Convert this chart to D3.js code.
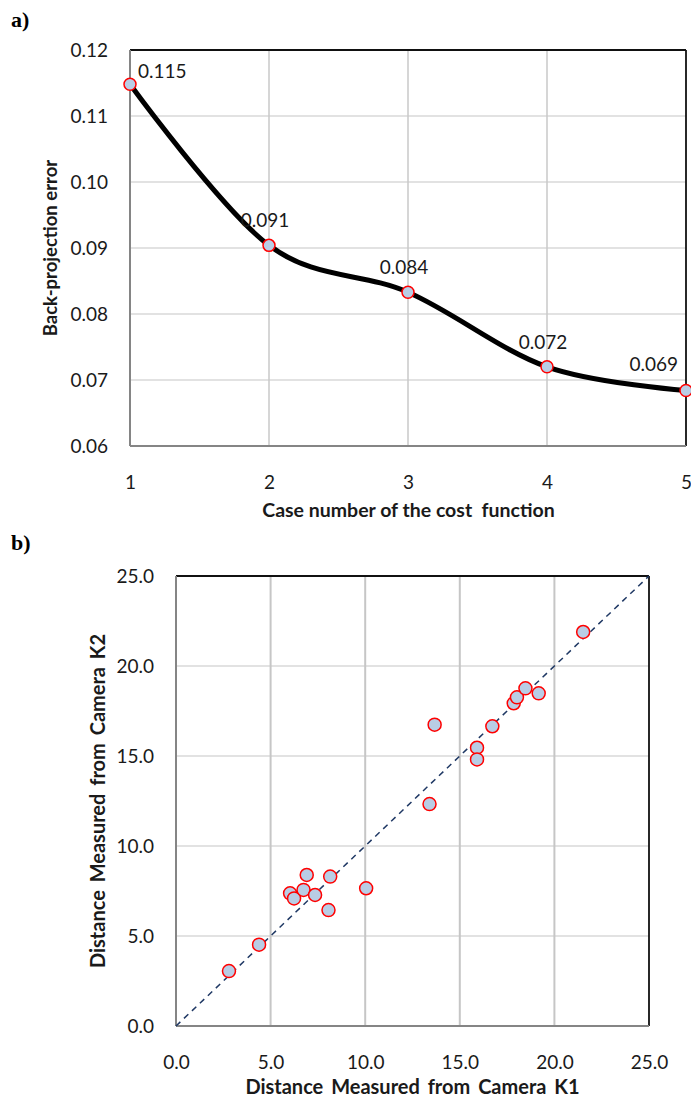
<!DOCTYPE html>
<html><head><meta charset="utf-8">
<script src="https://cdn.jsdelivr.net/npm/d3@7"></script>
<style>
body{margin:0;background:#fff;}
svg{display:block;}
</style></head>
<body>
<svg id="chart" width="691" height="1100"></svg>
<script>
// ---- Chart a data ----
const caseNumbers = [1, 2, 3, 4, 5];
const backProjError = [0.1148, 0.0904, 0.0833, 0.0720, 0.0684];
const errorLabels = ["0.115", "0.091", "0.084", "0.072", "0.069"];
const aYTicks = [0.06, 0.07, 0.08, 0.09, 0.10, 0.11, 0.12];
const aXTicks = [1, 2, 3, 4, 5];

// ---- Chart b data ----
const distK1 = [2.80, 4.39, 6.03, 6.24, 6.91, 6.74, 7.35, 8.15, 8.06, 10.05,
                13.40, 13.67, 15.91, 15.91, 16.72, 17.85, 18.02, 18.47, 19.17, 21.52];
const distK2 = [3.05, 4.52, 7.37, 7.09, 8.39, 7.56, 7.28, 8.30, 6.44, 7.65,
                12.33, 16.74, 15.46, 14.81, 16.65, 17.93, 18.26, 18.76, 18.48, 21.89];
const bTicks = [0, 5, 10, 15, 20, 25];
const identityLine = [0, 25];

const svg = d3.select("#chart");
const markerFill = "#b9cde5", markerStroke = "#ff0000";
const sans = "Lato, 'Open Sans', sans-serif";
const serif = "'Liberation Serif', 'DejaVu Serif', serif";
const txtCol = "#1a1a1a";

// ================= Chart a =================
const A = {l:130, r:686, t:50, b:446};
const ax = d3.scaleLinear().domain([1,5]).range([A.l, A.r]);
const ay = d3.scaleLinear().domain([0.06,0.12]).range([A.b, A.t]);
const ga = svg.append("g");

ga.append("g").selectAll("line").data(aYTicks.slice(1,-1)).join("line")
  .attr("x1",A.l).attr("x2",A.r).attr("y1",d=>ay(d)).attr("y2",d=>ay(d))
  .attr("stroke","#d9d9d9").attr("stroke-width",1.5);
ga.append("g").selectAll("line").data(aXTicks.slice(1,-1)).join("line")
  .attr("y1",A.t).attr("y2",A.b).attr("x1",d=>ax(d)).attr("x2",d=>ax(d))
  .attr("stroke","#c9c9c9").attr("stroke-width",1.5);
ga.append("line").attr("x1",A.l).attr("x2",A.r).attr("y1",A.t).attr("y2",A.t).attr("stroke","#111").attr("stroke-width",1.8);
ga.append("line").attr("x1",A.r).attr("x2",A.r).attr("y1",A.t).attr("y2",A.b).attr("stroke","#111").attr("stroke-width",1.8);
ga.append("line").attr("x1",A.l).attr("x2",A.l).attr("y1",A.t).attr("y2",A.b).attr("stroke","#858585").attr("stroke-width",2);
ga.append("line").attr("x1",A.l).attr("x2",A.r).attr("y1",A.b).attr("y2",A.b).attr("stroke","#858585").attr("stroke-width",2);

const aYAxis = d3.axisLeft(ay).tickValues(aYTicks).tickFormat(d3.format(".2f")).tickSize(0).tickPadding(22);
ga.append("g").attr("transform",`translate(${A.l},0)`).call(aYAxis)
  .call(g=>g.select(".domain").remove())
  .selectAll("text").style("font-size","19px").style("font-family",sans).attr("fill",txtCol);
const aXAxis = d3.axisBottom(ax).tickValues(aXTicks).tickFormat(d3.format("d")).tickSize(0).tickPadding(30);
ga.append("g").attr("transform",`translate(0,${A.b})`).call(aXAxis)
  .call(g=>g.select(".domain").remove())
  .selectAll("text").style("font-size","19px").style("font-family",sans).attr("fill",txtCol);

const aPts = caseNumbers.map((c,i)=>[c, backProjError[i]]);
ga.append("path").datum(aPts)
  .attr("d", d3.line().x(d=>ax(d[0])).y(d=>ay(d[1])).curve(d3.curveCardinal.tension(0)))
  .attr("fill","none").attr("stroke","#000").attr("stroke-width",5);
ga.append("g").selectAll("circle").data(aPts).join("circle")
  .attr("cx",d=>ax(d[0])).attr("cy",d=>ay(d[1])).attr("r",6)
  .attr("fill",markerFill).attr("stroke",markerStroke).attr("stroke-width",1.5);
ga.append("g").selectAll("text").data(aPts).join("text")
  .attr("x",(d,i)=> ax(d[0]) + (i===0 ? 8 : i===aPts.length-1 ? -8 : -4))
  .attr("y",(d,i)=> ay(d[1]) + (i===0 ? -6 : i===aPts.length-1 ? -20 : -18))
  .attr("text-anchor",(d,i)=> i===0 ? "start" : i===aPts.length-1 ? "end" : "middle")
  .style("font-size","19px").style("font-family",sans).attr("fill",txtCol)
  .text((d,i)=>errorLabels[i]);

ga.append("text").attr("transform",`translate(57,${(A.t+A.b)/2}) rotate(-90)`)
  .attr("text-anchor","middle").style("font-weight","bold").style("font-size","18.5px")
  .style("font-family",sans).attr("fill",txtCol)
  .text("Back-projection error");
ga.append("text").attr("x",408.5).attr("y",517).attr("text-anchor","middle")
  .style("font-weight","bold").style("font-size","19.5px").style("font-family",sans)
  .style("white-space","pre").attr("fill",txtCol)
  .text("Case number of the cost  function");
svg.append("text").attr("x",11).attr("y",27).style("font-family",serif)
  .style("font-weight","bold").style("font-size","22px").attr("fill","#000").text("a)");
svg.append("text").attr("x",11).attr("y",550).style("font-family",serif)
  .style("font-weight","bold").style("font-size","22px").attr("fill","#000").text("b)");

// ================= Chart b =================
const B = {l:176, r:649, t:576, b:1026};
const bx = d3.scaleLinear().domain([0,25]).range([B.l, B.r]);
const by = d3.scaleLinear().domain([0,25]).range([B.b, B.t]);
const gb = svg.append("g");

gb.append("g").selectAll("line").data(bTicks.slice(1,-1)).join("line")
  .attr("x1",B.l).attr("x2",B.r).attr("y1",d=>by(d)).attr("y2",d=>by(d))
  .attr("stroke","#d9d9d9").attr("stroke-width",1.5);
gb.append("g").selectAll("line").data(bTicks.slice(1,-1)).join("line")
  .attr("y1",B.t).attr("y2",B.b).attr("x1",d=>bx(d)).attr("x2",d=>bx(d))
  .attr("stroke","#c6c6c6").attr("stroke-width",2);
gb.append("line").attr("x1",B.l).attr("x2",B.r).attr("y1",B.t).attr("y2",B.t).attr("stroke","#111").attr("stroke-width",1.8);
gb.append("line").attr("x1",B.r).attr("x2",B.r).attr("y1",B.t).attr("y2",B.b).attr("stroke","#111").attr("stroke-width",1.8);
gb.append("line").attr("x1",B.l).attr("x2",B.l).attr("y1",B.t).attr("y2",B.b).attr("stroke","#858585").attr("stroke-width",2);
gb.append("line").attr("x1",B.l).attr("x2",B.r).attr("y1",B.b).attr("y2",B.b).attr("stroke","#858585").attr("stroke-width",2);

const bYAxis = d3.axisLeft(by).tickValues(bTicks).tickFormat(d3.format(".1f")).tickSize(0).tickPadding(22);
gb.append("g").attr("transform",`translate(${B.l},0)`).call(bYAxis)
  .call(g=>g.select(".domain").remove())
  .selectAll("text").style("font-size","19px").style("font-family",sans).attr("fill",txtCol);
const bXAxis = d3.axisBottom(bx).tickValues(bTicks).tickFormat(d3.format(".1f")).tickSize(0).tickPadding(30);
gb.append("g").attr("transform",`translate(0,${B.b})`).call(bXAxis)
  .call(g=>g.select(".domain").remove())
  .selectAll("text").style("font-size","19px").style("font-family",sans).attr("fill",txtCol);

gb.append("line").attr("x1",bx(identityLine[0])).attr("y1",by(identityLine[0]))
  .attr("x2",bx(identityLine[1])).attr("y2",by(identityLine[1]))
  .attr("stroke","#1f3864").attr("stroke-width",1.5).attr("stroke-dasharray","6,5");

const bPts = distK1.map((d,i)=>[d, distK2[i]]);
gb.append("g").selectAll("circle").data(bPts).join("circle")
  .attr("cx",d=>bx(d[0])).attr("cy",d=>by(d[1])).attr("r",6.5)
  .attr("fill",markerFill).attr("stroke",markerStroke).attr("stroke-width",1.5);

gb.append("text").attr("transform",`translate(105,${(B.t+B.b)/2}) rotate(-90)`)
  .attr("text-anchor","middle").style("font-weight","bold").style("font-size","20px")
  .style("font-family",sans).style("word-spacing","3px").attr("fill",txtCol)
  .text("Distance Measured from Camera K2");
gb.append("text").attr("x",(B.l+B.r)/2).attr("y",1094).attr("text-anchor","middle")
  .style("font-weight","bold").style("font-size","20px").style("font-family",sans)
  .style("word-spacing","3px").attr("fill",txtCol)
  .text("Distance Measured from Camera K1");
</script>
</body></html>
